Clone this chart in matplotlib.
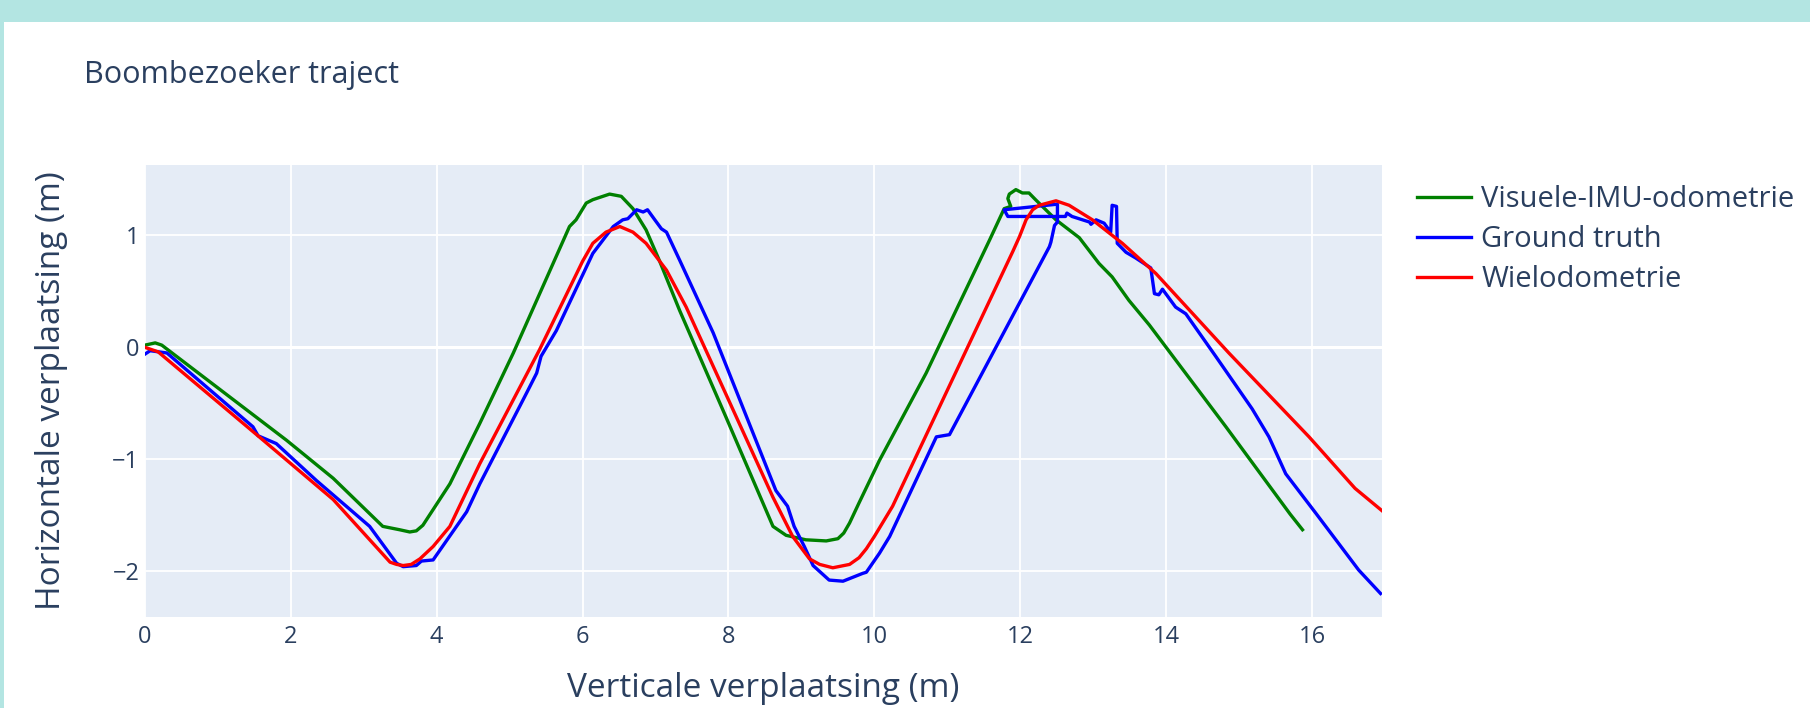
#!/usr/bin/env python3
"""Boombezoeker traject - plotly-style trajectory comparison"""

import matplotlib
matplotlib.use('Agg')
import matplotlib.pyplot as plt
from matplotlib.patches import Rectangle

plt.rcParams['font.family'] = ['Open Sans', 'DejaVu Sans']

# Visuele-IMU-odometrie
vio_x = [0.00, 0.14, 0.23, 1.94, 2.58, 3.26, 3.49, 3.63, 3.72, 3.81, 3.95, 4.18, 4.59, 5.05,
         5.82, 5.91, 6.05, 6.14, 6.37, 6.53, 6.69, 6.87, 7.05, 7.33, 7.97, 8.61,
         8.79, 9.06, 9.34, 9.50, 9.58, 9.66, 9.79, 10.07, 10.71, 11.58, 11.78, 11.87,
         11.83, 11.85, 11.94, 12.03, 12.12, 12.21, 12.49, 12.81, 13.08, 13.26,
         13.49, 13.77, 14.82, 15.70, 15.87]
vio_y = [0.02, 0.04, 0.02, -0.83, -1.17, -1.60, -1.63, -1.65, -1.64, -1.59, -1.45, -1.22, -0.68, -0.05,
         1.08, 1.14, 1.29, 1.32, 1.37, 1.35, 1.24, 1.05, 0.78, 0.33, -0.63, -1.60,
         -1.68, -1.72, -1.73, -1.71, -1.66, -1.57, -1.39, -1.01, -0.23, 0.96, 1.24, 1.26,
         1.33, 1.37, 1.41, 1.38, 1.38, 1.32, 1.14, 0.98, 0.75, 0.63,
         0.42, 0.20, -0.71, -1.49, -1.63]

# Ground truth
gt_x = [0.00, 0.07, 0.30, 1.48, 1.55, 1.80, 2.35, 2.76, 3.08, 3.45, 3.54, 3.72, 3.79,
        3.95, 4.41, 4.59, 5.23, 5.37, 5.43, 5.64, 6.14, 6.42, 6.55, 6.62, 6.74, 6.83,
        6.89, 6.99, 7.08, 7.15, 7.33, 7.79, 8.65, 8.81, 8.90, 9.04, 9.16, 9.38, 9.57,
        9.84, 9.89, 10.07, 10.21, 10.85, 11.03, 12.40, 12.42, 12.47, 12.51, 12.51,
        11.78, 11.83, 12.62, 12.64, 12.71, 12.95, 12.97, 13.04, 13.15, 13.24, 13.26,
        13.32, 13.33, 13.45, 13.58, 13.79, 13.84, 13.90, 13.95, 14.13, 14.27, 14.68,
        15.18, 15.41, 15.64, 16.05, 16.64, 16.94]
gt_y = [-0.06, -0.03, -0.05, -0.71, -0.79, -0.86, -1.19, -1.42, -1.60, -1.93, -1.96, -1.95, -1.91,
        -1.90, -1.47, -1.22, -0.41, -0.23, -0.08, 0.15, 0.84, 1.08, 1.14, 1.15, 1.23, 1.21,
        1.23, 1.14, 1.06, 1.03, 0.78, 0.13, -1.28, -1.42, -1.60, -1.78, -1.95, -2.08, -2.09,
        -2.02, -2.01, -1.84, -1.69, -0.80, -0.78, 0.90, 0.94, 1.09, 1.12, 1.28,
        1.23, 1.17, 1.17, 1.20, 1.17, 1.12, 1.10, 1.14, 1.11, 1.03, 1.27,
        1.26, 0.93, 0.85, 0.80, 0.71, 0.48, 0.47, 0.52, 0.36, 0.30, -0.08,
        -0.55, -0.80, -1.13, -1.48, -1.99, -2.20]

# Wielodometrie
wo_x = [0.00, 0.18, 1.53, 2.58, 3.36, 3.45, 3.54, 3.65, 3.77, 3.95, 4.18, 4.59, 5.41, 6.00,
        6.14, 6.32, 6.51, 6.69, 6.87, 7.15, 7.42, 8.61, 8.88, 9.11, 9.25, 9.43, 9.66, 9.79,
        9.89, 10.00, 10.25, 11.90, 11.99, 12.08, 12.17, 12.26, 12.49, 12.67, 12.99, 13.40,
        13.86, 14.86, 15.96, 16.59, 16.96]
wo_y = [0.00, -0.04, -0.78, -1.36, -1.92, -1.94, -1.95, -1.94, -1.89, -1.78, -1.60, -1.04, -0.02, 0.77,
        0.93, 1.03, 1.08, 1.03, 0.93, 0.69, 0.36, -1.34, -1.69, -1.89, -1.94, -1.97, -1.94, -1.88,
        -1.80, -1.69, -1.42, 0.86, 0.99, 1.14, 1.23, 1.27, 1.31, 1.27, 1.14, 0.93,
        0.66, -0.05, -0.80, -1.26, -1.46]

series_names = ['Visuele-IMU-odometrie', 'Ground truth', 'Wielodometrie']
x_ticks = [0, 2, 4, 6, 8, 10, 12, 14, 16]
y_ticks = [-2, -1, 0, 1]

W, H = 1810, 708
text_col = '#2a3f5f'

fig = plt.figure(figsize=(W / 100, H / 100), dpi=100)
fig.patch.set_facecolor('#b3e5e2')
# white page inside the teal frame
fig.add_artist(Rectangle((4 / W, 0), 1 - 4 / W, 1 - 22 / H, transform=fig.transFigure,
                         facecolor='white', edgecolor='none', zorder=-10))

ax = fig.add_axes([145 / W, 91 / H, (1382 - 145) / W, (617 - 165) / H])
ax.set_facecolor('#e5ecf6')
for s in ax.spines.values():
    s.set_visible(False)

ax.set_xlim(0, 16.96)
ax.set_ylim(-2.41, 1.63)
ax.set_xticks(x_ticks)
ax.set_yticks(y_ticks)
ax.set_xticklabels([str(v) for v in x_ticks])
ax.set_yticklabels([str(v).replace('-', '\u2212') for v in y_ticks])
ax.tick_params(length=0, labelsize=17, labelcolor=text_col)
ax.tick_params(axis='x', pad=6)
ax.tick_params(axis='y', pad=4)
ax.grid(True, color='white', linewidth=1.3)
ax.set_axisbelow(True)
ax.axhline(0, color='white', linewidth=2.2, zorder=0.9)

lw = 2.4
ax.plot(vio_x, vio_y, color='green', linewidth=lw, label=series_names[0])
ax.plot(gt_x, gt_y, color='blue', linewidth=lw, label=series_names[1])
ax.plot(wo_x, wo_y, color='red', linewidth=lw, label=series_names[2])

leg = ax.legend(loc='upper left', bbox_to_anchor=(1417 / W, 1 - 185 / H),
                bbox_transform=fig.transFigure, frameon=False, fontsize=21,
                handlelength=1.85, handletextpad=0.35, labelspacing=0.38,
                borderpad=0, borderaxespad=0)
for t in leg.get_texts():
    t.set_color(text_col)
for l in leg.get_lines():
    l.set_linewidth(lw)

# titles
fig.text(84 / W, 1 - 83 / H, 'Boombezoeker traject', fontsize=22, color=text_col,
         ha='left', va='baseline')
fig.text(763 / W, 1 - 697 / H, 'Verticale verplaatsing (m)', fontsize=24, color=text_col,
         ha='center', va='baseline')
fig.text(52 / W, 1 - 391 / H, 'Horizontale verplaatsing (m)', fontsize=24, color=text_col,
         ha='center', va='center', rotation=90)

plt.savefig('out.png', dpi=100, facecolor=fig.get_facecolor())
